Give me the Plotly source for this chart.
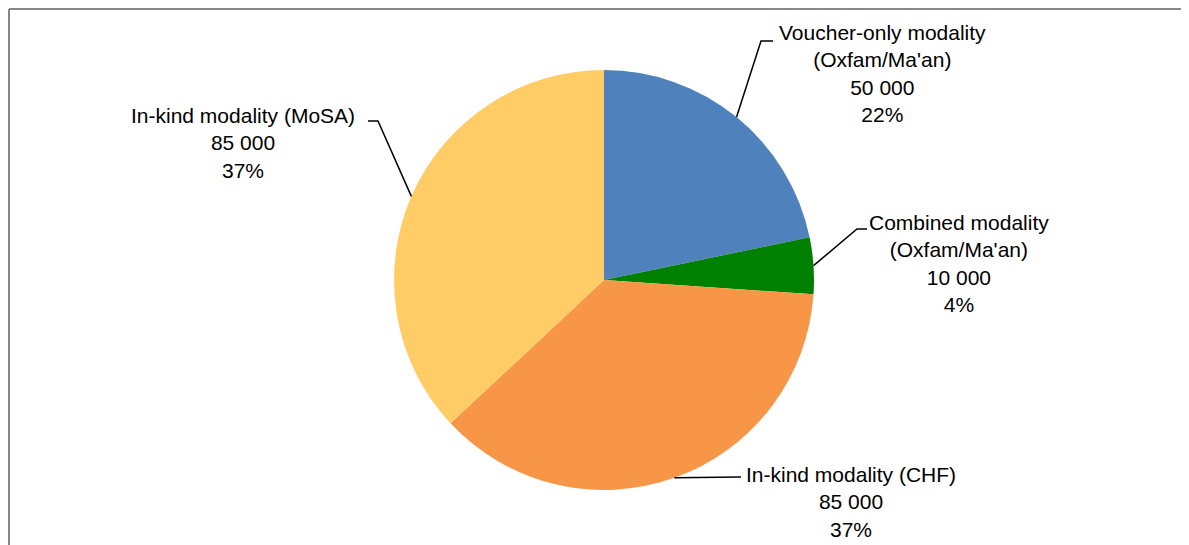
import math
import plotly.graph_objects as go

# ---- data ----
categories = [
    "Voucher-only modality<br>(Oxfam/Ma'an)",
    "Combined modality<br>(Oxfam/Ma'an)",
    "In-kind modality (CHF)",
    "In-kind modality (MoSA)",
]
values = [50000, 10000, 85000, 85000]
value_labels = ["50 000", "10 000", "85 000", "85 000"]
colors = ["#4F81BD", "#008000", "#F79646", "#FFCC66"]

OFF = 8  # page body margin
W, H = 1189 - OFF, 545 - OFF
CX, CY, R = 604, 280, 210  # pie centre / radius in window pixels


def px(x):
    return (x - OFF) / W


def py(y):
    return 1 - (y - OFF) / H


fig = go.Figure()
fig.add_trace(go.Pie(
    labels=categories,
    values=values,
    marker=dict(colors=colors, line=dict(width=0)),
    sort=False,
    direction="clockwise",
    rotation=0,
    textinfo="none",
    hoverinfo="label+value+percent",
    showlegend=False,
    domain=dict(x=[px(CX - R), px(CX + R)], y=[py(CY + R), py(CY - R)]),
))

# label layout: (text centre x, text centre y, elbow points after the slice edge)
label_layout = [
    (882, 74, [(761, 41), (773, 41)]),
    (959, 263, [(857, 229), (867, 229)]),
    (851, 502, [(741, 477)]),
    (243, 143, [(378, 121), (368, 121)]),
]

total = sum(values)
cum = 0
shapes = []
annotations = []
for cat, v, vl, (tx, ty, elbow) in zip(categories, values, value_labels, label_layout):
    mid = (cum + v / 2) / total * 2 * math.pi
    cum += v
    sx = CX + R * math.sin(mid)
    sy = CY - R * math.cos(mid)
    pts = [(sx, sy)] + elbow
    path = "M " + " L ".join(f"{px(x)},{py(y)}" for x, y in pts)
    shapes.append(dict(type="path", xref="paper", yref="paper", path=path,
                       line=dict(color="black", width=1.5)))
    pct = round(v / total * 100)
    annotations.append(dict(
        x=px(tx), y=py(ty), xref="paper", yref="paper",
        xanchor="center", yanchor="middle", showarrow=False, align="center",
        text=f"{cat}<br>{vl}<br>{pct}%",
        font=dict(family="Liberation Sans, Arial, sans-serif", size=21, color="black"),
    ))

# chart frame: only top and left edges are visible in the reference
frame = dict(xref="paper", yref="paper", type="line", layer="below",
             line=dict(color="#878787", width=2))
shapes.append(dict(frame, x0=px(9), x1=1.0, y0=py(9), y1=py(9)))
shapes.append(dict(frame, x0=px(9), x1=px(9), y0=py(9), y1=0.0))

fig.update_layout(
    width=W, height=H,
    margin=dict(l=0, r=0, t=0, b=0),
    paper_bgcolor="white",
    plot_bgcolor="white",
    shapes=shapes,
    annotations=annotations,
)

fig.write_html("out.html")
